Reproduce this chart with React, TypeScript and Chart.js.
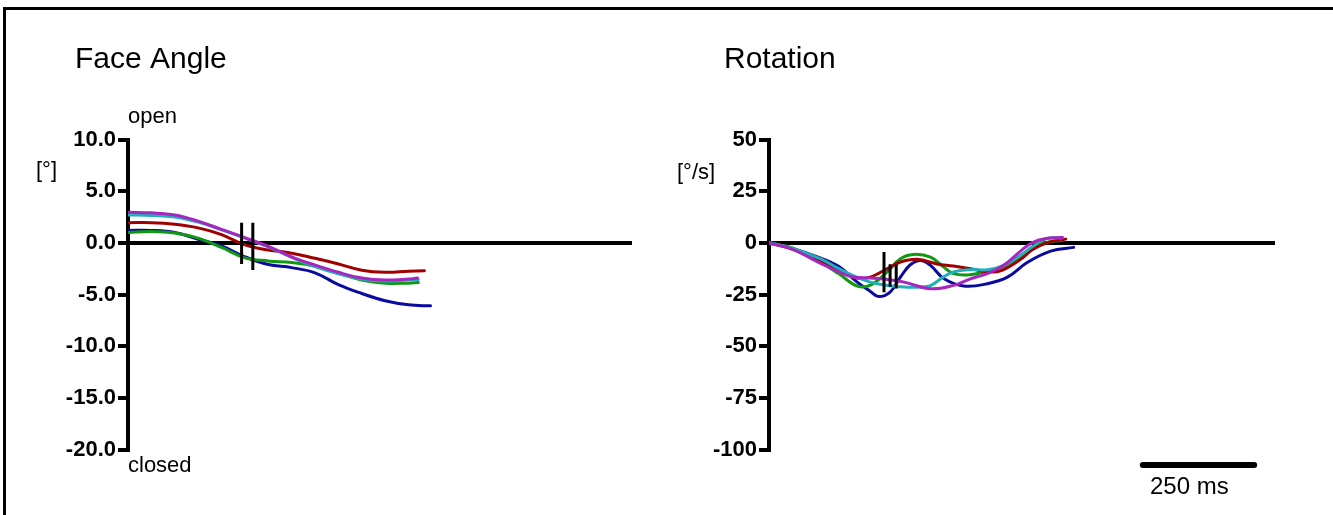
import React, { useEffect, useRef } from "react";
import { Chart, registerables } from "chart.js";

Chart.register(...registerables);

const FONT = "'Liberation Sans', Arial, Helvetica, sans-serif";

// time axis (ms) shared by both panels
const X_MAX = 1078;

// ---------- Face Angle panel ----------
const faceTitle = "Face Angle";
const faceUnit = "[°]";
const faceTicks = [10, 5, 0, -5, -10, -15, -20];
const faceTopLabel = "open";
const faceBottomLabel = "closed";

const faceMagentaT = [0, 50, 100, 150, 200, 250, 300, 350, 400, 450, 500, 550, 600, 619];
const faceMagentaV = [2.95, 2.9, 2.7, 2.1, 1.3, 0.5, -0.35, -1.35, -2.15, -2.85, -3.4, -3.6, -3.5, -3.4];
const faceCyanT = [0, 50, 100, 150, 200, 250, 300, 350, 400, 450, 500, 550, 600, 621];
const faceCyanV = [2.7, 2.65, 2.5, 2.0, 1.25, 0.45, -0.4, -1.4, -2.3, -3.0, -3.5, -3.7, -3.6, -3.55];
const faceRedT = [0, 50, 100, 150, 200, 250, 300, 350, 400, 450, 500, 550, 600, 634];
const faceRedV = [1.95, 1.95, 1.8, 1.45, 0.8, -0.2, -0.7, -1.0, -1.5, -2.05, -2.65, -2.85, -2.75, -2.7];
const faceGreenT = [0, 50, 100, 150, 200, 250, 300, 350, 400, 450, 500, 550, 600, 621];
const faceGreenV = [1.0, 1.1, 0.95, 0.45, -0.45, -1.45, -1.75, -1.9, -2.25, -2.95, -3.6, -3.9, -3.9, -3.85];
const faceBlueT = [0, 50, 100, 150, 200, 250, 300, 350, 400, 450, 500, 550, 600, 647];
const faceBlueV = [1.2, 1.2, 1.0, 0.35, -0.3, -1.35, -2.1, -2.4, -2.9, -4.05, -4.9, -5.6, -6.0, -6.1];

// event markers: [time, top, bottom]
const faceMarkers = [
  [243, 1.95, -2.05],
  [267, 1.95, -2.63],
];

// ---------- Rotation panel ----------
const rotTitle = "Rotation";
const rotUnit = "[°/s]";
const rotTicks = [50, 25, 0, -25, -50, -75, -100];

const rotMagentaT = [0, 50, 109, 149, 178, 216, 252, 288, 344, 393, 429, 465, 499, 536, 560, 590, 625];
const rotMagentaV = [0, -3.2, -9.8, -14.1, -16.5, -17, -17.7, -19, -22.2, -20.6, -17.4, -14.9, -11, -4, 0, 2.1, 2.6];
const rotCyanT = [0, 50, 109, 149, 178, 216, 252, 288, 323, 344, 371, 393, 429, 465, 499, 536, 560, 590, 625];
const rotCyanV = [0, -2.7, -7.7, -12.5, -15.7, -19, -20.6, -21.4, -21.4, -20.7, -16.6, -14.1, -13, -13, -11, -6, -2, 2, 2.4];
const rotRedT = [0, 50, 109, 149, 188, 216, 252, 280, 316, 358, 393, 429, 465, 493, 536, 560, 595, 632];
const rotRedV = [0, -3, -8.5, -13.3, -17, -16.6, -12.5, -9.3, -8, -10.2, -11.2, -12.5, -14, -13.6, -8, -3.5, 0.2, 1.8];
const rotGreenT = [0, 50, 109, 149, 188, 216, 252, 280, 307, 344, 371, 393, 429, 465, 499, 536, 550, 585, 625];
const rotGreenV = [0, -2.5, -9.3, -15, -20.9, -20.5, -14, -7.7, -5.6, -6.9, -11.5, -14.9, -15.4, -13.8, -11.5, -6.5, -4.5, -0.2, 1.3];
const rotBlueT = [0, 50, 109, 149, 188, 216, 233, 258, 280, 301, 323, 344, 373, 415, 465, 508, 550, 600, 649];
const rotBlueV = [0, -2.7, -7.3, -11.5, -19, -23.5, -26, -23.8, -16.6, -10.6, -8.5, -10.9, -17.4, -20.9, -19.8, -16.6, -9.5, -4, -2.2];

const rotMarkers = [
  [245, -4.4, -23.9],
  [258, -10.4, -21.3],
  [271, -10.5, -22.1],
];

// scale bar
const scaleBarMs = 250;
const scaleBarStart = 790;
const scaleBarValue = -107.5;
const scaleBarLabel = "250 ms";

const COLORS = {
  magenta: "#a626c0",
  cyan: "#22b0b8",
  red: "#a00000",
  green: "#119911",
  blue: "#0a0aa0",
};

const pts = (t: number[], v: number[]) => t.map((x, i) => ({ x, y: v[i] }));

function seriesDs(t: number[], v: number[], color: string) {
  return {
    data: pts(t, v),
    borderColor: color,
    borderWidth: 3,
    pointRadius: 0,
    fill: false,
    tension: 0.4,
    borderCapStyle: "round" as const,
    borderJoinStyle: "round" as const,
  };
}

function markerDs(m: number[]) {
  return {
    data: [
      { x: m[0], y: m[1] },
      { x: m[0], y: m[2] },
    ],
    borderColor: "#000",
    borderWidth: 3,
    pointRadius: 0,
    tension: 0,
    fill: false,
  };
}

type Label = { text: string; x: number; y: number; size: number };

function textPlugin(labels: Label[]) {
  return {
    id: "panelTexts",
    afterDraw(chart: any) {
      const ctx = chart.ctx;
      ctx.save();
      ctx.fillStyle = "#000";
      ctx.textAlign = "left";
      ctx.textBaseline = "alphabetic";
      for (const l of labels) {
        ctx.font = `${l.size}px ${FONT}`;
        ctx.fillText(l.text, l.x, l.y);
      }
      ctx.restore();
    },
  };
}

const scaleBarPlugin = {
  id: "scaleBar",
  afterDatasetsDraw(chart: any) {
    const xs = chart.scales.x;
    const ys = chart.scales.y;
    const x0 = xs.getPixelForValue(scaleBarStart);
    const x1 = xs.getPixelForValue(scaleBarStart + scaleBarMs);
    const y = ys.getPixelForValue(scaleBarValue);
    const ctx = chart.ctx;
    ctx.save();
    ctx.strokeStyle = "#000";
    ctx.lineWidth = 6;
    ctx.lineCap = "round";
    ctx.beginPath();
    ctx.moveTo(x0 + 3, y);
    ctx.lineTo(x1 - 3, y);
    ctx.stroke();
    ctx.restore();
  },
};

function yAxis(min: number, max: number, step: number, axisWidth: number, fmt: (v: number) => string) {
  return {
    min,
    max,
    afterFit: (s: any) => {
      s.width = axisWidth;
    },
    border: { display: true, color: "#000", width: 4 },
    grid: {
      drawOnChartArea: true,
      color: (c: any) => (c.tick && c.tick.value === 0 ? "#000" : "rgba(0,0,0,0)"),
      lineWidth: 4,
      tickColor: "#000",
      tickWidth: 4,
      tickLength: 10,
    },
    ticks: {
      stepSize: step,
      autoSkip: false,
      color: "#000",
      padding: 2,
      font: { family: FONT, size: 22, weight: "bold" as const },
      callback: (v: any) => fmt(Number(v)),
    },
  };
}

type PanelProps = {
  width: number;
  left: number;
  datasets: any[];
  yMin: number;
  yMax: number;
  yStep: number;
  axisWidth: number;
  padRight: number;
  fmt: (v: number) => string;
  labels: Label[];
  extraPlugins?: any[];
};

function Panel(p: PanelProps) {
  const ref = useRef<HTMLCanvasElement | null>(null);
  useEffect(() => {
    if (!ref.current) return;
    const chart = new Chart(ref.current, {
      type: "line",
      data: { datasets: p.datasets },
      options: {
        responsive: false,
        animation: false,
        events: [],
        layout: { padding: { top: 139.5, bottom: 65.5, left: 0, right: p.padRight } },
        plugins: { legend: { display: false }, tooltip: { enabled: false }, title: { display: false } },
        scales: {
          x: { type: "linear", display: false, min: 0, max: X_MAX },
          y: yAxis(p.yMin, p.yMax, p.yStep, p.axisWidth, p.fmt) as any,
        },
      },
      plugins: [textPlugin(p.labels), ...(p.extraPlugins || [])],
    });
    return () => chart.destroy();
  }, []);
  return (
    <canvas
      ref={ref}
      width={p.width}
      height={515}
      style={{ position: "absolute", left: p.left, top: 0, width: p.width, height: 515 }}
    />
  );
}

export default function App() {
  const faceDatasets = [
    ...faceMarkers.map(markerDs),
    seriesDs(faceMagentaT, faceMagentaV, COLORS.magenta),
    seriesDs(faceCyanT, faceCyanV, COLORS.cyan),
    seriesDs(faceRedT, faceRedV, COLORS.red),
    seriesDs(faceGreenT, faceGreenV, COLORS.green),
    seriesDs(faceBlueT, faceBlueV, COLORS.blue),
  ];
  const rotDatasets = [
    ...rotMarkers.map(markerDs),
    seriesDs(rotMagentaT, rotMagentaV, COLORS.magenta),
    seriesDs(rotCyanT, rotCyanV, COLORS.cyan),
    seriesDs(rotRedT, rotRedV, COLORS.red),
    seriesDs(rotGreenT, rotGreenV, COLORS.green),
    seriesDs(rotBlueT, rotBlueV, COLORS.blue),
  ];
  const rightOffset = 666;
  return (
    <div
      style={{
        position: "absolute",
        left: 0,
        top: 0,
        width: 1333,
        height: 515,
        overflow: "hidden",
        background: "#fff",
      }}
    >
      <div
        style={{
          position: "absolute",
          left: 3,
          top: 7,
          width: 1400,
          height: 600,
          borderTop: "3px solid #000",
          borderLeft: "3px solid #000",
        }}
      />
      <Panel
        width={666}
        left={0}
        datasets={faceDatasets}
        yMin={-20}
        yMax={10}
        yStep={5}
        axisWidth={128}
        padRight={34}
        fmt={(v) => v.toFixed(1)}
        labels={[
          { text: faceTitle, x: 75, y: 68, size: 30 },
          { text: faceTopLabel, x: 128, y: 123, size: 22 },
          { text: faceBottomLabel, x: 128, y: 472, size: 22 },
          { text: faceUnit, x: 36, y: 177, size: 22 },
        ]}
      />
      <Panel
        width={667}
        left={rightOffset}
        datasets={rotDatasets}
        yMin={-100}
        yMax={50}
        yStep={25}
        axisWidth={103}
        padRight={58}
        fmt={(v) => String(v)}
        labels={[
          { text: rotTitle, x: 724 - rightOffset, y: 68, size: 30 },
          { text: rotUnit, x: 677 - rightOffset, y: 179, size: 22 },
          { text: scaleBarLabel, x: 1150 - rightOffset, y: 494, size: 24 },
        ]}
        extraPlugins={[scaleBarPlugin]}
      />
    </div>
  );
}
